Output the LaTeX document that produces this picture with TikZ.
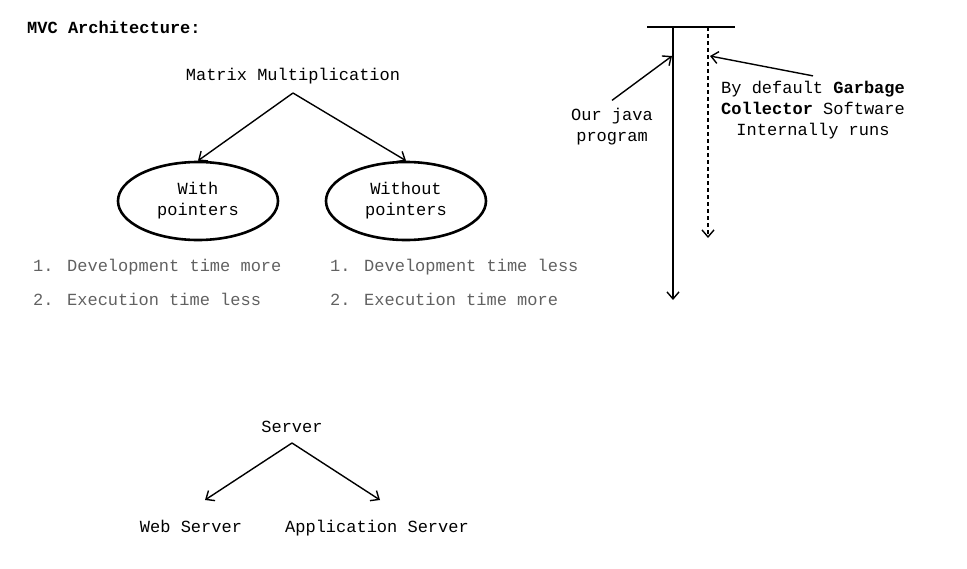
\documentclass[tikz,border=0pt]{standalone}
\usepackage{fontspec}
\setmainfont{Liberation Mono}
\usepackage{tikz}
\usetikzlibrary{arrows.meta,positioning,shapes.geometric}
\tikzset{%
	label/.style  = {inner sep=0pt, font=\fontsize{17}{21}\selectfont},
	choice/.style = {draw, ellipse, line width=2.6pt, minimum width=160pt, minimum height=78pt, inner sep=0pt, align=center, font=\fontsize{17}{21}\selectfont},
	note/.style   = {inner sep=0pt, text=black!62, font=\fontsize{17}{21}\selectfont},
	arrow/.style  = {line width=1.4pt, -{Straight Barb[length=7pt,width=12pt]}},
}

\begin{document}
\begin{tikzpicture}[x=1pt,y=-1pt]
	\useasboundingbox (0,0) rectangle (967,568);
	
	\node[label, anchor=base west] (title) at (27,33) {\textbf{MVC Architecture:}};
	
	\node[label, anchor=base] (mm) at (293,80) {Matrix Multiplication};
	\node[choice] (with) at (198,201) {With\\pointers};
	\node[choice] (without) at (406,201) {Without\\pointers};
	\coordinate (mmtop) at (293,93);
	\draw[arrow] (mmtop) -- (with.north);
	\draw[arrow] (mmtop) -- (without.north);
	
	\node[note, anchor=base west] (w1) at (33,271) {1. Development time more};
	\node[note, anchor=base west] (w2) at (33,305) {2. Execution time less};
	\node[note, anchor=base west] (o1) at (330,271) {1. Development time less};
	\node[note, anchor=base west] (o2) at (330,305) {2. Execution time more};
	
	% program and garbage collector
	\coordinate (barl) at (647,27);
	\coordinate (barr) at (735,27);
	\coordinate (jtop) at (673,27);
	\coordinate (jend) at (673,300);
	\coordinate (gtop) at (708,27);
	\coordinate (gend) at (708,238);
	\draw[line width=1.4pt] (barl) -- (barr);
	\draw[arrow] (jtop) -- (jend);
	\draw[arrow, dash pattern=on 4pt off 3pt] (gtop) -- (gend);
	
	\node[label, align=center] (java) at (612,127) {Our java\\program};
	\node[label, align=center] (gc) at (813,110) {By default \textbf{Garbage}\\\textbf{Collector} Software\\Internally runs};
	\coordinate (jhit) at (672,56);
	\coordinate (ghit) at (710,56);
	\draw[arrow] ([yshift=8pt]java.north) -- (jhit);
	\draw[arrow] ([yshift=5pt]gc.north) -- (ghit);
	
	% servers
	\node[label, anchor=base] (server) at (292,432) {Server};
	\node[label, anchor=base] (web) at (191,532) {Web Server};
	\node[label, anchor=base] (app) at (377,532) {Application Server};
	\coordinate (srvtop) at (292,443);
	\coordinate (webtip) at (205,500);
	\coordinate (apptip) at (380,500);
	\draw[arrow] (srvtop) -- (webtip);
	\draw[arrow] (srvtop) -- (apptip);
\end{tikzpicture}
\end{document}
